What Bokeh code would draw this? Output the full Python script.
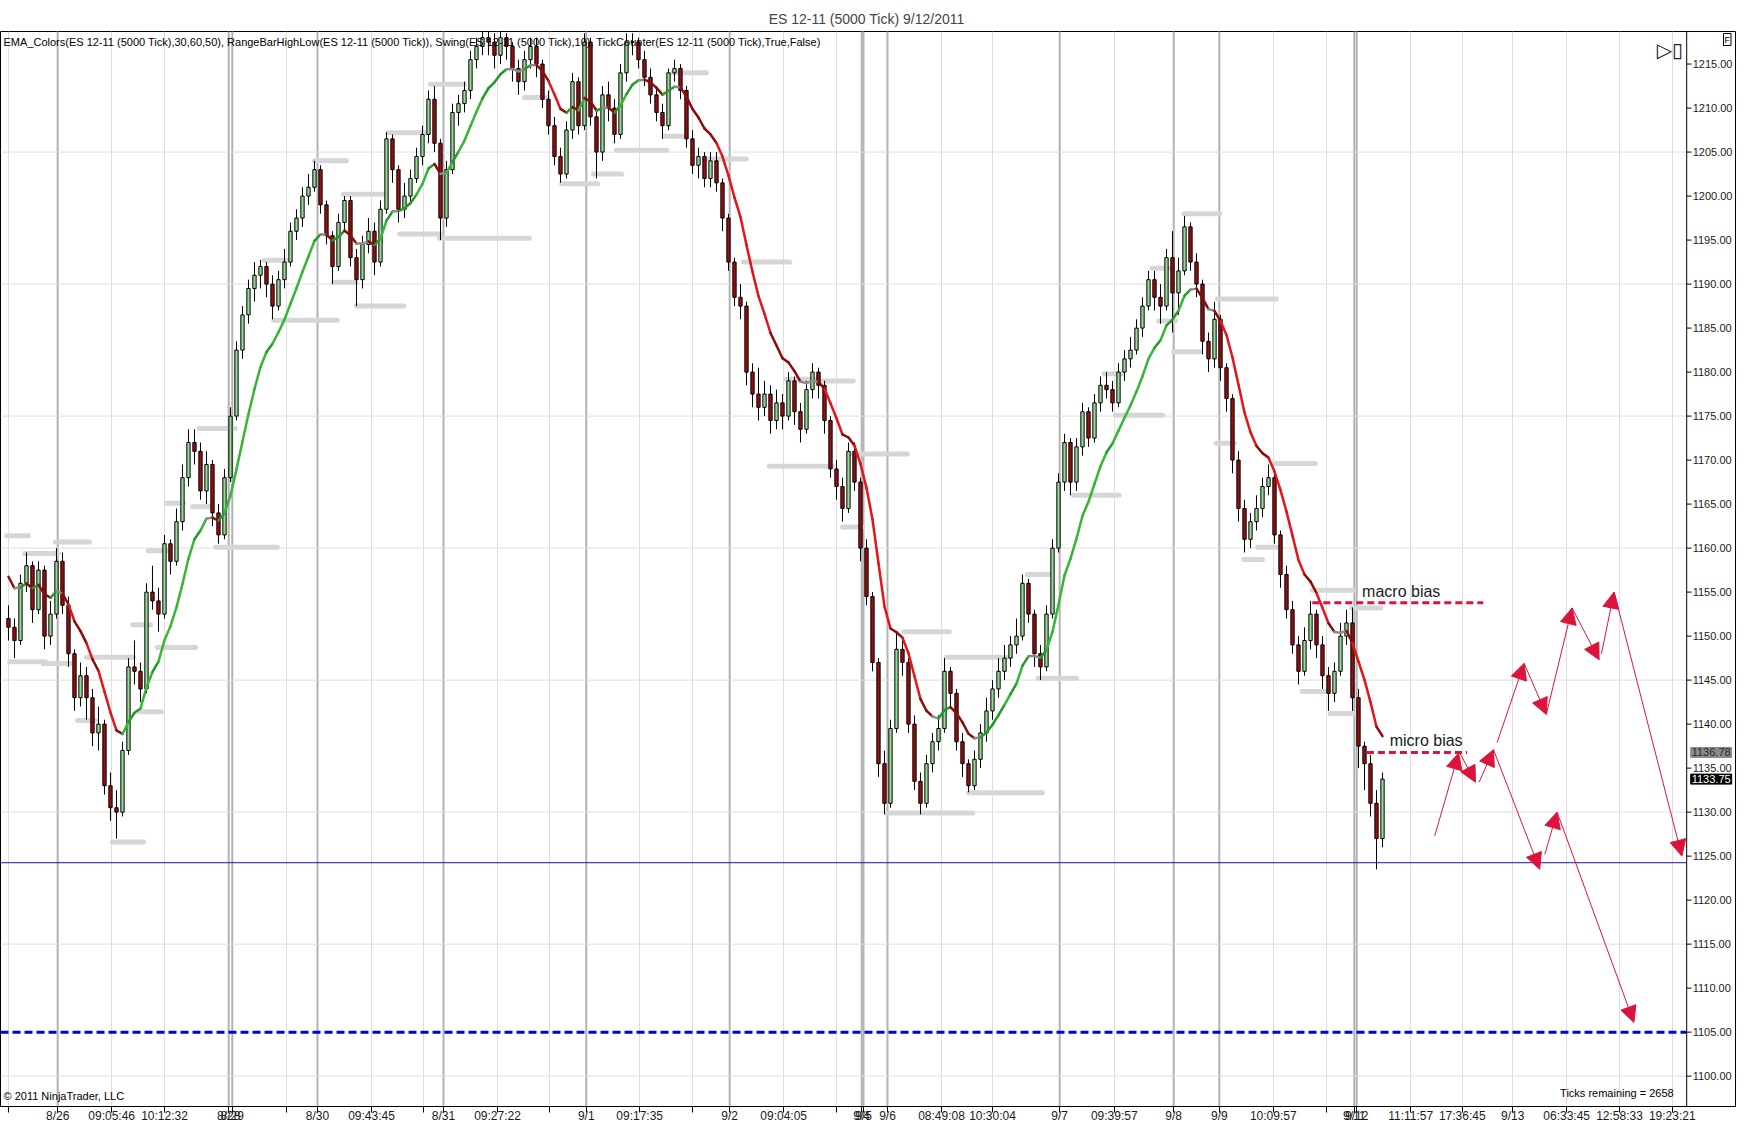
from bokeh.plotting import figure
from bokeh.models import (Range1d, FixedTicker, Span, Label,
                          Arrow, NormalHead, ColumnDataSource)
from bokeh.core.properties import value
from bokeh.embed import file_html
from bokeh.resources import INLINE

FONT = "Liberation Sans"

# ES 12-11 (5000 tick) bars (one bar = one slot on the x axis)
first_open = 1152.0
closes = [
    1151.0, 1149.5, 1156.0, 1158.0, 1153.0, 1157.5, 1150.0, 1152.5, 1158.5, 1153.5,
    1148.0, 1143.0, 1145.5, 1143.0, 1139.0, 1140.0, 1133.0, 1130.5, 1130.0, 1137.0,
    1146.5, 1146.0, 1144.0, 1155.0, 1154.0, 1152.5, 1160.5, 1158.5, 1163.0, 1168.0,
    1172.0, 1171.0, 1166.5, 1169.5, 1164.0, 1161.5, 1168.0, 1175.0, 1182.5, 1186.5,
    1189.5, 1191.0, 1192.0, 1190.0, 1187.5, 1190.5, 1192.5, 1196.0, 1197.5, 1200.0,
    1201.0, 1203.0, 1199.0, 1195.5, 1192.0, 1197.0, 1199.5, 1193.0, 1190.5, 1194.5,
    1196.0, 1192.5, 1198.5, 1206.5, 1203.0, 1198.5, 1200.0, 1202.0, 1204.5, 1207.0,
    1211.0, 1206.0, 1197.5, 1203.0, 1209.5, 1210.5, 1212.0, 1215.5, 1217.0, 1218.0,
    1217.5, 1216.0, 1218.0, 1217.0, 1214.5, 1213.0, 1215.5, 1217.0, 1215.0, 1211.0,
    1208.0, 1204.5, 1202.5, 1207.5, 1213.0, 1208.0, 1217.5, 1209.0, 1205.0, 1211.5,
    1210.0, 1207.0, 1214.0, 1217.5, 1217.5, 1215.5, 1213.5, 1211.5, 1209.5, 1208.0,
    1214.0, 1214.5, 1212.0, 1206.5, 1203.5, 1204.5, 1202.0, 1204.0, 1201.5, 1197.5,
    1192.5, 1188.5, 1187.5, 1180.0, 1177.5, 1176.0, 1177.5, 1174.5, 1176.5, 1175.0,
    1179.0, 1175.5, 1173.5, 1178.0, 1180.0, 1178.5, 1174.5, 1169.0, 1167.0, 1164.5,
    1171.0, 1167.5, 1160.0, 1154.5, 1147.0, 1135.5, 1131.0, 1139.5, 1148.5, 1147.0,
    1140.0, 1133.5, 1131.0, 1135.5, 1138.0, 1139.5, 1146.0, 1143.5, 1138.0, 1135.5,
    1133.0, 1136.0, 1139.0, 1141.5, 1144.0, 1146.0, 1147.5, 1149.0, 1150.0, 1156.0,
    1152.5, 1148.0, 1146.5, 1152.5, 1160.0, 1167.5, 1172.0, 1167.5, 1171.5, 1175.5,
    1172.5, 1176.5, 1178.5, 1178.0, 1176.5, 1180.0, 1181.5, 1182.5, 1185.0, 1187.5,
    1190.5, 1188.5, 1187.5, 1193.0, 1189.0, 1191.5, 1196.5, 1192.5, 1190.0, 1183.5,
    1181.5, 1186.0, 1180.5, 1177.0, 1170.0, 1164.5, 1161.0, 1163.0, 1164.5, 1167.0,
    1168.0, 1161.5, 1157.0, 1153.0, 1149.0, 1146.0, 1149.5, 1152.5, 1149.0, 1145.5,
    1143.5, 1146.0, 1150.0, 1151.5, 1143.0, 1137.5, 1135.5, 1131.0, 1127.0, 1133.75,
]
highs = [
    1153.5, 1152.0, 1157.0, 1159.5, 1158.5, 1158.5, 1158.0, 1154.0, 1160.0, 1159.5,
    1154.5, 1148.5, 1147.0, 1146.5, 1144.0, 1142.0, 1140.5, 1134.5, 1132.5, 1138.0,
    1147.5, 1149.5, 1147.0, 1156.0, 1158.0, 1155.5, 1161.5, 1161.0, 1164.5, 1169.5,
    1173.5, 1173.5, 1172.0, 1171.0, 1170.0, 1165.0, 1169.0, 1176.0, 1183.5, 1187.5,
    1190.5, 1192.5, 1192.75, 1192.5, 1191.0, 1191.5, 1194.0, 1197.0, 1198.5, 1201.0,
    1202.5, 1204.0, 1203.5, 1199.5, 1196.0, 1198.0, 1200.0, 1200.0, 1194.0, 1195.5,
    1197.5, 1197.0, 1199.5, 1207.25, 1207.0, 1203.5, 1201.5, 1203.0, 1205.5, 1208.0,
    1212.0, 1212.5, 1206.5, 1204.0, 1210.5, 1211.5, 1213.0, 1216.5, 1218.0, 1219.0,
    1219.0, 1218.5, 1219.0, 1218.5, 1217.5, 1215.5, 1216.5, 1218.0, 1218.0, 1215.5,
    1212.0, 1209.0, 1205.5, 1208.5, 1214.0, 1213.5, 1218.5, 1218.0, 1210.0, 1212.5,
    1213.0, 1211.0, 1215.0, 1218.5, 1218.5, 1218.0, 1216.5, 1214.5, 1212.5, 1210.5,
    1214.5, 1215.5, 1215.0, 1212.5, 1207.5, 1205.5, 1205.0, 1205.0, 1205.0, 1202.0,
    1198.0, 1193.0, 1190.0, 1188.0, 1181.0, 1180.5, 1179.0, 1178.5, 1178.0, 1177.5,
    1180.0, 1179.5, 1176.5, 1179.0, 1181.0, 1180.5, 1179.0, 1175.0, 1170.0, 1168.0,
    1172.0, 1172.0, 1168.0, 1161.0, 1155.0, 1147.5, 1137.0, 1140.5, 1150.5, 1149.5,
    1147.5, 1141.0, 1134.5, 1136.5, 1139.0, 1141.0, 1147.5, 1146.5, 1144.0, 1139.0,
    1136.0, 1137.0, 1140.0, 1143.0, 1145.0, 1147.5, 1149.0, 1150.0, 1152.0, 1157.0,
    1156.5, 1153.0, 1149.0, 1153.5, 1161.0, 1168.5, 1173.0, 1172.5, 1172.5, 1176.5,
    1176.0, 1177.5, 1179.5, 1180.0, 1179.0, 1181.0, 1182.5, 1184.0, 1186.0, 1188.5,
    1191.5, 1191.5, 1190.0, 1194.0, 1196.0, 1193.0, 1197.75, 1197.0, 1193.5, 1190.5,
    1184.5, 1188.0, 1186.5, 1181.0, 1177.5, 1171.0, 1165.5, 1164.0, 1166.0, 1168.0,
    1169.5, 1168.5, 1162.0, 1158.0, 1154.0, 1150.0, 1151.0, 1154.0, 1153.0, 1150.0,
    1146.5, 1147.0, 1151.5, 1153.0, 1153.25, 1144.0, 1138.0, 1136.5, 1132.5, 1134.5,
]
lows = [
    1149.5, 1147.5, 1149.0, 1155.0, 1151.5, 1152.5, 1148.5, 1149.0, 1152.0, 1152.5,
    1146.5, 1141.5, 1142.0, 1140.5, 1137.5, 1137.0, 1132.0, 1129.0, 1127.0, 1129.5,
    1136.5, 1144.5, 1142.5, 1143.5, 1153.0, 1150.5, 1152.0, 1157.0, 1158.0, 1162.0,
    1167.0, 1169.5, 1165.5, 1165.0, 1162.5, 1160.5, 1161.0, 1167.5, 1174.5, 1181.5,
    1185.5, 1188.0, 1189.5, 1188.5, 1186.0, 1187.0, 1189.5, 1192.0, 1195.0, 1196.5,
    1199.0, 1200.5, 1198.0, 1194.5, 1190.0, 1191.5, 1196.0, 1192.0, 1187.5, 1189.5,
    1193.5, 1191.0, 1192.0, 1198.0, 1201.5, 1197.0, 1197.5, 1199.0, 1201.5, 1203.5,
    1206.0, 1205.0, 1195.0, 1196.5, 1202.5, 1208.0, 1209.5, 1211.0, 1214.5, 1216.0,
    1216.0, 1214.5, 1215.0, 1215.5, 1213.0, 1211.5, 1212.0, 1214.5, 1213.5, 1210.0,
    1207.0, 1203.5, 1201.5, 1202.0, 1206.5, 1207.0, 1207.5, 1208.0, 1202.0, 1204.0,
    1208.5, 1206.0, 1206.5, 1213.0, 1216.0, 1214.5, 1212.5, 1210.5, 1208.5, 1206.5,
    1207.5, 1213.0, 1211.0, 1205.5, 1202.5, 1202.0, 1201.0, 1201.0, 1200.5, 1196.0,
    1191.5, 1187.5, 1186.0, 1178.5, 1176.0, 1174.5, 1175.0, 1173.0, 1173.5, 1173.5,
    1174.5, 1174.0, 1172.0, 1173.0, 1177.0, 1177.0, 1173.0, 1168.0, 1165.5, 1163.0,
    1164.0, 1166.5, 1158.5, 1153.5, 1146.0, 1134.0, 1129.75, 1130.5, 1139.0, 1145.5,
    1139.0, 1132.5, 1129.75, 1130.5, 1134.5, 1137.0, 1139.0, 1142.0, 1137.0, 1134.0,
    1132.25, 1132.5, 1135.0, 1138.0, 1140.5, 1143.0, 1145.0, 1146.5, 1148.0, 1149.5,
    1151.5, 1146.5, 1145.0, 1146.0, 1152.0, 1159.5, 1166.5, 1166.0, 1166.5, 1170.5,
    1171.5, 1172.0, 1175.5, 1177.0, 1175.5, 1176.0, 1179.0, 1180.5, 1182.0, 1184.0,
    1187.0, 1187.0, 1185.5, 1187.0, 1184.5, 1186.5, 1191.0, 1191.5, 1188.5, 1182.0,
    1180.0, 1180.5, 1179.0, 1175.5, 1168.5, 1163.0, 1159.5, 1160.0, 1162.0, 1163.5,
    1166.0, 1160.5, 1155.5, 1152.0, 1148.0, 1144.5, 1145.5, 1148.5, 1147.5, 1144.0,
    1141.5, 1142.5, 1145.5, 1149.0, 1141.5, 1135.0, 1132.5, 1129.5, 1123.5, 1126.0,
]
ema_seed = 1158.0

# RangeBarHighLow / Swing levels: start bar, end bar, price
swing_x0 = [-0.3, 2.7, 7.8, 0.2, 5.8, 13.0, 11.5, 17.3, 20.7, 24.8, 21.7, 23.3, 26.3, 30.7,
            34.5, 31.8, 42.6, 44.2, 51.0, 54.2, 55.8, 58.0, 63.2, 65.2, 70.3, 71.8, 86.0,
            92.2, 97.5, 101.3, 110.7, 109.2, 116.0, 122.5, 129.5, 134.2, 126.8, 140.0,
            139.0, 149.2, 156.3, 146.3, 160.0, 169.8, 171.6, 177.5, 184.5, 182.6, 195.9,
            190.6, 191.7, 194.2, 201.5, 201.3, 210.8, 205.9, 208.2, 217.3, 223.9, 215.6,
            220.3]
swing_x1 = [3.3, 8.3, 13.5, 6.2, 10.7, 20.8, 14.5, 22.5, 23.7, 31.2, 25.5, 26.5, 29.2, 34.0,
            44.8, 37.8, 46.6, 54.8, 56.3, 57.9, 62.8, 65.9, 69.5, 72.0, 76.0, 86.8, 89.7,
            98.2, 102.2, 109.7, 116.3, 112.7, 123.0, 130.2, 134.5, 140.8, 137.3, 149.8,
            142.3, 156.8, 166.5, 160.7, 172.3, 173.7, 178.0, 185.1, 192.4, 185.6, 201.9,
            193.4, 194.5, 198.7, 211.3, 204.3, 217.8, 209.0, 212.0, 224.2, 228.7, 220.1,
            224.2]
swing_y = [1161.4, 1159.4, 1160.7, 1147.1, 1146.9, 1147.6, 1140.4, 1126.6, 1151.3, 1148.7,
           1141.4, 1159.7, 1165.1, 1164.7, 1160.1, 1173.6, 1192.7, 1185.9, 1204.0, 1190.2,
           1200.2, 1187.5, 1207.2, 1195.7, 1212.7, 1195.2, 1211.2, 1201.4, 1202.5, 1205.2,
           1214.0, 1206.8, 1204.2, 1192.5, 1179.2, 1179.0, 1169.3, 1170.7, 1162.4, 1150.5,
           1147.6, 1129.9, 1132.2, 1157.0, 1145.2, 1166.0, 1175.1, 1179.8, 1198.0, 1191.8,
           1185.8, 1182.3, 1188.3, 1171.9, 1169.6, 1158.7, 1160.1, 1155.2, 1153.2, 1143.7,
           1141.2]

# x axis: tick slots and their labels
tick_pos = [0.0, 8.2, 17.2, 26.0, 36.7, 37.3, 46.3, 51.5, 60.5, 69.2, 72.5, 81.5, 90.2, 96.3,
            105.2, 114.0, 120.2, 129.2, 138.0, 142.2, 142.5, 146.5, 155.5, 164.0, 175.2,
            184.3, 194.2, 201.8, 210.8, 219.7, 224.3, 224.7, 233.7, 242.3, 250.7, 259.7,
            268.5, 277.3]
tick_labels = ["", "8/26", "09:05:46", "10:12:32", "8/28", "8/29", "", "8/30", "09:43:45", "",
               "8/31", "09:27:22", "", "9/1", "09:17:35", "", "9/2", "09:04:05", "", "9/4",
               "9/5", "9/6", "08:49:08", "10:30:04", "9/7", "09:39:57", "9/8", "9/9",
               "10:09:57", "", "9/11", "9/12", "11:11:57", "17:36:45", "9/13", "06:33:45",
               "12:58:33", "19:23:21"]
session_breaks = [8.2, 36.7, 37.3, 51.5, 72.5, 96.3, 120.2, 142.2, 142.5, 146.5, 175.2, 194.2,
                  201.8, 224.3, 224.7]
price_ticks = [1100, 1105, 1110, 1115, 1120, 1125, 1130, 1135, 1140, 1145, 1150, 1155, 1160,
               1165, 1170, 1175, 1180, 1185, 1190, 1195, 1200, 1205, 1210, 1215]
price_grid = [1100, 1115, 1130, 1145, 1160, 1175, 1190, 1205]

# drawn objects
support_line = 1124.25
target_line = 1105.0
bias_names = ["macro bias", "micro bias"]
bias_x0 = [217.3, 226.4]
bias_x1 = [245.8, 243.1]
bias_y = [1153.8, 1136.78]
bias_text_x = [225.6, 230.2]
bias_text_y = [1154.1, 1137.2]
arrow_x0 = [237.7, 241.9, 245.1, 247.5, 256.05, 258.1, 248.1, 252.6, 256.3, 260.6, 265.5, 267.6]
arrow_y0 = [1127.3, 1136.7, 1133.4, 1137.1, 1125.2, 1130.0, 1137.9, 1146.9, 1141.1, 1153.2, 1148.0, 1155.0]
arrow_x1 = [241.7, 244.5, 247.5, 255.2, 258.1, 270.9, 252.6, 256.3, 260.6, 265.1, 267.6, 278.9]
arrow_y1 = [1136.7, 1133.4, 1137.1, 1123.5, 1130.0, 1106.1, 1146.9, 1141.1, 1153.2, 1147.3, 1155.0, 1125.0]
price_tags = ["1136.78", "1133.75"]
price_tag_y = [1136.78, 1133.75]


def ema(values, seed, alpha):
    out = []
    prev = seed
    for v in values:
        prev = prev + alpha * (v - prev)
        out.append(prev)
    return out


def slope_color(d):
    if d > 1.2:
        return "#36b536"
    if d > 0.3:
        return "#259925"
    if d < -1.5:
        return "#e4141c"
    if d < -0.3:
        return "#8b0c0c"
    return "#8c8c8c"


xs = list(range(len(closes)))
opens = [first_open] + closes[:-1]
up = [c >= o for o, c in zip(opens, closes)]
bars = ColumnDataSource(dict(
    x=xs, high=highs, low=lows,
    top=[max(o, c) for o, c in zip(opens, closes)],
    bottom=[min(o, c) for o, c in zip(opens, closes)],
    fill=["#98d998" if u else "#990f0f" for u in up],
))

ema_vals = ema(closes, ema_seed, 0.18)
ema_src = ColumnDataSource(dict(
    x0=xs[:-1], x1=xs[1:], y0=ema_vals[:-1], y1=ema_vals[1:],
    color=[slope_color(b - a) for a, b in zip(ema_vals[:-1], ema_vals[1:])],
))

# the frame spans the whole width; the price scale is drawn at AXIS_X inside it
X0, X1 = -1.33, 288.0
AXIS_X = 279.7
TICK_LEN = 0.8
Y0, Y1 = 1096.55, 1218.7

p = figure(frame_width=1736, frame_height=1075,
           x_range=Range1d(X0, X1), y_range=Range1d(Y0, Y1),
           y_axis_location=None, output_backend="svg", toolbar_location=None,
           min_border_left=0, min_border_right=0, min_border_top=31, min_border_bottom=25,
           title="ES 12-11 (5000 Tick)  9/12/2011")
p.title.align = "center"
p.title.text_font = FONT
p.title.text_font_size = "14px"
p.title.text_font_style = "normal"
p.title.standoff = 10
p.title.offset = 8
p.background_fill_color = "white"
p.border_fill_color = "white"
p.outline_line_color = "black"
p.outline_line_width = 1

p.xaxis.ticker = FixedTicker(ticks=tick_pos)
p.xaxis.major_label_overrides = dict(zip(tick_pos, tick_labels))
p.xaxis.minor_tick_line_color = None
p.xaxis.major_tick_in = 0
p.xaxis.major_tick_out = 6
p.xaxis.major_label_standoff = -4
p.xaxis.axis_line_color = "black"
p.xaxis.major_tick_line_color = "black"
p.xaxis.major_label_text_font = FONT
p.xaxis.major_label_text_font_size = "12px"
p.xaxis.major_label_text_color = "#1a1a1a"

p.xgrid.ticker = FixedTicker(ticks=tick_pos)
p.xgrid.grid_line_color = "#dedede"
p.ygrid.visible = False
p.segment(x0=X0, x1=AXIS_X, y0=price_grid, y1=price_grid, line_color="#dedede", line_width=1)

for b in session_breaks:
    p.add_layout(Span(location=b, dimension="height", line_color="#b2b2b2",
                      line_width=2, level="underlay"))

# price scale
p.add_layout(Span(location=AXIS_X, dimension="height", line_color="black", line_width=1))
p.segment(x0=AXIS_X, x1=AXIS_X + TICK_LEN, y0=price_ticks, y1=price_ticks,
          line_color="black", line_width=1)
p.text(x=AXIS_X, y=price_ticks, text=["%.2f" % v for v in price_ticks], x_offset=6,
       text_baseline="middle", text_font=value(FONT), text_font_size="11px",
       text_color="#1a1a1a")

p.segment(x0=swing_x0, x1=swing_x1, y0=swing_y, y1=swing_y,
          line_color="#d6d6d6", line_width=5, line_cap="round")

p.segment(x0="x", x1="x", y0="low", y1="high", source=bars, line_color="black", line_width=1)
p.vbar(x="x", width=0.55, top="top", bottom="bottom", source=bars,
       fill_color="fill", line_color="black", line_width=1)

p.segment(x0="x0", x1="x1", y0="y0", y1="y1", source=ema_src,
          line_color="color", line_width=2.5, line_cap="round")

p.segment(x0=X0, x1=AXIS_X, y0=support_line, y1=support_line, line_color="#1414b4", line_width=1)
p.segment(x0=X0, x1=AXIS_X, y0=target_line, y1=target_line, line_color="#0000e0",
          line_width=3, line_dash="8 4")

p.segment(x0=bias_x0, x1=bias_x1, y0=bias_y, y1=bias_y,
          line_color="#dc143c", line_width=3, line_dash="7 4")
for name, tx, ty in zip(bias_names, bias_text_x, bias_text_y):
    p.add_layout(Label(x=tx, y=ty, text=name, text_font=FONT, text_font_size="16px",
                       text_color="#202020", text_baseline="bottom"))

arrows = ColumnDataSource(dict(x0=arrow_x0, y0=arrow_y0, x1=arrow_x1, y1=arrow_y1))
p.add_layout(Arrow(end=NormalHead(size=16, fill_color="#dc143c", line_color="#dc143c"),
                   x_start="x0", y_start="y0", x_end="x1", y_end="y1", source=arrows,
                   line_color="#dc143c", line_width=1))

p.add_layout(Label(x=X0, y=Y1, x_offset=3, y_offset=-4, text_baseline="top",
                   text="EMA_Colors(ES 12-11 (5000 Tick),30,60,50), RangeBarHighLow(ES 12-11 (5000 Tick)), "
                        "Swing(ES 12-11 (5000 Tick),10), TickCounter(ES 12-11 (5000 Tick),True,False)",
                   text_font=FONT, text_font_size="11px", text_color="black"))
p.add_layout(Label(x=X0, y=Y0, x_offset=3, y_offset=5, text_baseline="bottom",
                   text="\u00a9 2011 NinjaTrader, LLC", text_font=FONT, text_font_size="11px",
                   text_color="black"))
p.add_layout(Label(x=AXIS_X, y=Y0, x_offset=-13, y_offset=8, text_baseline="bottom",
                   text_align="right", text="Ticks remaining = 2658", text_font=FONT,
                   text_font_size="11px", text_color="black"))
p.add_layout(Label(x=AXIS_X, y=Y1, x_offset=-30, y_offset=-6, text_baseline="top",
                   text="\u25b7\u25af", text_font="DejaVu Sans", text_font_size="20px",
                   text_color="#222222"))
p.add_layout(Label(x=X1, y=Y1, x_offset=-13, y_offset=-2, text_baseline="top",
                   text="F", text_font=FONT, text_font_size="9px", text_color="black",
                   border_line_color="black", background_fill_color="white", padding=1))

tag_styles = [("#8a8a8a", "#2a2a2a"), ("black", "white")]
for txt, ty, (bg, fg) in zip(price_tags, price_tag_y, tag_styles):
    p.add_layout(Label(x=AXIS_X, y=ty, x_offset=4, text=txt, text_baseline="middle",
                       text_font=FONT, text_font_size="11px", text_color=fg, padding=1,
                       background_fill_color=bg, border_line_color=bg))

open("out.html", "w").write(file_html(p, INLINE))
